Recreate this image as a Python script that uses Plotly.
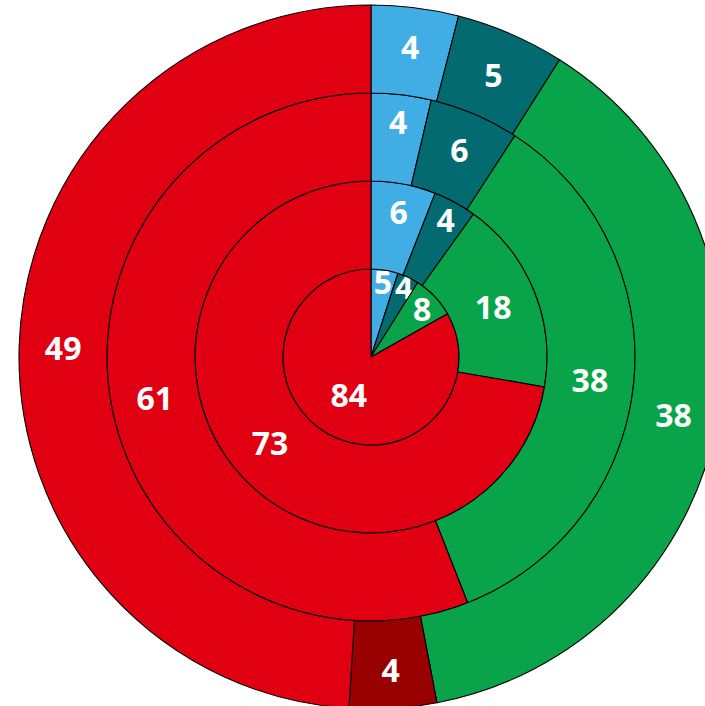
import plotly.graph_objects as go

# Segment order (clockwise from 12 o'clock)
colors_inner = ["#41ADE5", "#036B6F", "#09A44A", "#E10012"]
colors_outer = ["#41ADE5", "#036B6F", "#09A44A", "#990000", "#E10012"]

ring1_values = [5, 4, 8, 84]
ring2_values = [6, 4, 18, 73]
ring3_values = [4, 6, 38, 61]
ring4_values = [4, 5, 38, 4, 49]

ring1_labels = ["A", "B", "C", "E"]
ring2_labels = ["A", "B", "C", "E"]
ring3_labels = ["A", "B", "C", "E"]
ring4_labels = ["A", "B", "C", "D", "E"]

# Figure canvas and ring geometry (pixels)
W, H = 742, 716
cx, cy = 371, 357
radii = [88, 176, 264, 352]

rings = [
    (ring1_labels, ring1_values, colors_inner),
    (ring2_labels, ring2_values, colors_inner),
    (ring3_labels, ring3_values, colors_inner),
    (ring4_labels, ring4_values, colors_outer),
]

FONT_SIZE = 32

fig = go.Figure()
for i, (labels, values, cols) in enumerate(rings):
    r = radii[i]
    inner = radii[i - 1] if i > 0 else 0
    fig.add_trace(go.Pie(
        labels=labels,
        values=values,
        sort=False,
        direction="clockwise",
        rotation=0,
        hole=inner / r,
        domain=dict(
            x=[(cx - r) / W, (cx + r) / W],
            y=[1 - (cy + r) / H, 1 - (cy - r) / H],
        ),
        marker=dict(colors=cols, line=dict(color="black", width=1.1)),
        texttemplate="<b>%{value}</b>",
        textposition="inside",
        insidetextorientation="horizontal",
        textfont=dict(family="Open Sans", size=FONT_SIZE, color="white"),
        hoverinfo="label+value",
        showlegend=False,
    ))

fig.update_layout(
    width=W,
    height=H,
    margin=dict(l=0, r=0, t=0, b=0),
    paper_bgcolor="white",
    plot_bgcolor="white",
    uniformtext=dict(mode="show", minsize=FONT_SIZE),
)

fig.write_html(
    "out.html",
    post_script="document.documentElement.style.overflow='hidden';document.body.style.overflow='hidden';document.body.style.margin='0';",
)
